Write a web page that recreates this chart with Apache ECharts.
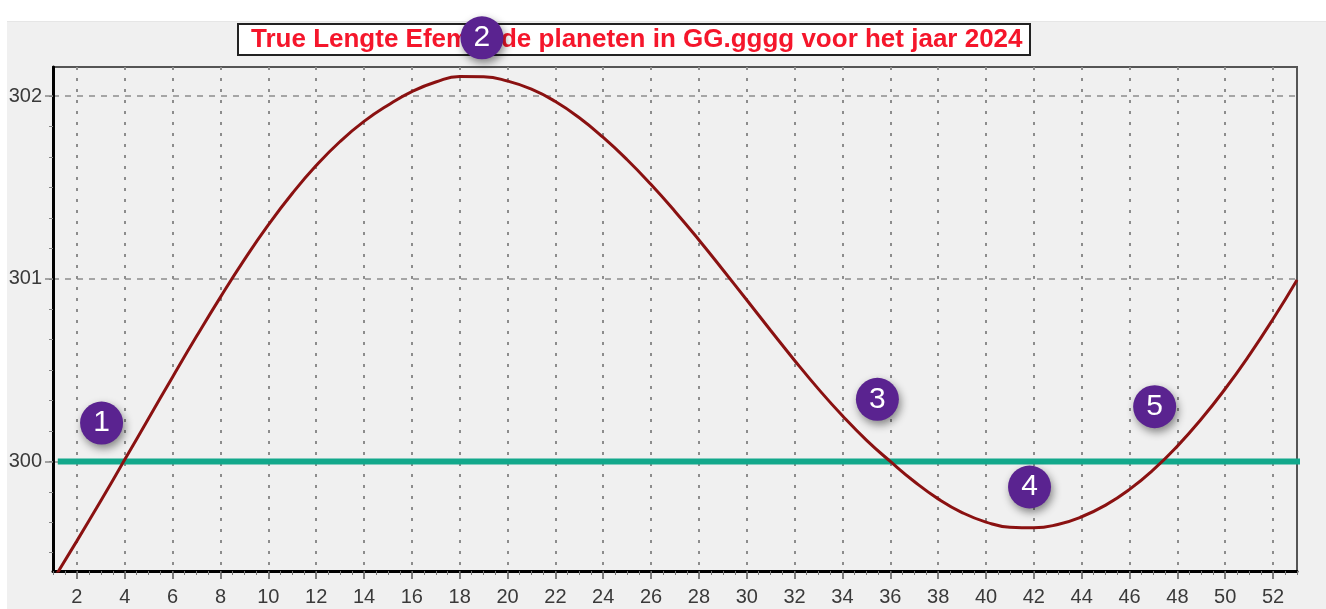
<!DOCTYPE html>
<html>
<head>
<meta charset="utf-8">
<title>True Lengte 2024</title>
<script src="https://cdn.jsdelivr.net/npm/echarts@6/dist/echarts.min.js"></script>
<style>
  html, body { margin: 0; padding: 0; background: #fff; }
  /* grijs venster onder de witte rand */
  #frame { position: absolute; left: 7px; top: 21px; right: 0; bottom: 0; background: #f0f0f0; border-top: 1px solid #e6e6e6; }
  #chart { position: absolute; left: 0; top: 0; width: 1326px; height: 609px; }
</style>
</head>
<body>
<div id="frame"></div>
<div id="chart"></div>
<script>
// weeknummers
const weeks = [1, 2, 3, 4, 5, 6, 7, 8, 9, 10, 11, 12, 13, 14, 15, 16, 17, 18, 19, 20,
  21, 22, 23, 24, 25, 26, 27, 28, 29, 30, 31, 32, 33, 34, 35, 36, 37, 38, 39, 40,
  41, 42, 43, 44, 45, 46, 47, 48, 49, 50, 51, 52, 53];
const lengte = [299.35, 299.565, 299.785, 300.01, 300.237, 300.463, 300.685, 300.90, 301.105, 301.295,
  301.467, 301.62, 301.752, 301.862, 301.951, 302.025, 302.078, 302.108, 302.106, 302.083,
  302.039, 301.971, 301.882, 301.774, 301.652, 301.516, 301.369, 301.213, 301.05, 300.884,
  300.717, 300.553, 300.396, 300.25, 300.117, 300.00, 299.89, 299.795, 299.72, 299.668,
  299.64, 299.637, 299.655, 299.697, 299.761, 299.847, 299.955, 300.084, 300.232, 300.398,
  300.581, 300.78, 300.994];
// referentielijn op 300 graden
const refValue = 300;
const refSpan = [1.2, 53.3];
// aslabels
const xLabels = [2, 4, 6, 8, 10, 12, 14, 16, 18, 20, 22, 24, 26, 28, 30, 32, 34, 36, 38, 40,
  42, 44, 46, 48, 50, 52];
const yLabels = [300, 301, 302];
// genummerde markeringen
const markerNames = ['1', '2', '3', '4', '5'];
const markerX = [3.03, 18.93, 35.46, 41.82, 47.05];
const markerY = [300.21, 302.32, 300.34, 299.86, 300.30];

const font = '"Liberation Sans", Arial, sans-serif';

// kleine streepjes op de y-as (per 1/6 graad)
const yMinor = [];
for (let k = 0; k <= 24; k++) {
  const v = 299 + k / 6;
  if (v > 299.4 && v < 302.16) yMinor.push(+v.toFixed(4));
}

const chart = echarts.init(document.getElementById('chart'));

chart.setOption({
  animation: false,
  title: {
    text: 'True Lengte Efemeride planeten in GG.gggg voor het jaar 2024',
    left: 238,
    top: 24,
    padding: [3, 8, 2, 13],
    backgroundColor: '#fff',
    borderColor: '#222',
    borderWidth: 2,
    textStyle: { color: '#f5162b', fontSize: 26, fontWeight: 'bold', fontFamily: font },
  },
  grid: {
    left: 53, top: 67, right: 29, bottom: 38,
    show: true, backgroundColor: '#f0f0f0', borderColor: '#555', borderWidth: 2,
  },
  xAxis: [
    {
      type: 'value', min: 1, max: 53, position: 'bottom',
      axisLine: { lineStyle: { color: '#000', width: 3 } },
      axisTick: { customValues: xLabels, length: 8, lineStyle: { color: '#555', width: 1.5 } },
      axisLabel: { customValues: xLabels, fontSize: 20, color: '#3a3a3a', margin: 16, fontFamily: font },
      splitLine: { show: true, lineStyle: { color: '#8c8c8c', width: 2, type: [3, 8] } },
    },
    {
      type: 'value', min: 1, max: 53, interval: 0.5, position: 'bottom',
      axisLine: { show: false },
      axisTick: { length: 4, lineStyle: { color: '#777' } },
      axisLabel: { show: false },
      splitLine: { show: false },
    },
  ],
  yAxis: [
    {
      type: 'value', min: 299.4, max: 302.16, position: 'left',
      axisLine: { show: true, lineStyle: { color: '#000', width: 3 } },
      axisTick: { show: true, customValues: yLabels, length: 8, lineStyle: { color: '#888', width: 1.5 } },
      axisLabel: { customValues: yLabels, fontSize: 20, color: '#3a3a3a', margin: 11, fontFamily: font },
      splitLine: { show: true, lineStyle: { color: '#8c8c8c', width: 1.5, type: [6, 6] } },
    },
    {
      type: 'value', min: 299.4, max: 302.16, position: 'left',
      axisLine: { show: false },
      axisTick: { show: true, customValues: yMinor, length: 4, lineStyle: { color: '#888' } },
      axisLabel: { show: false },
      splitLine: { show: false },
    },
  ],
  series: [
    {
      type: 'line',
      data: refSpan.map(x => [x, refValue]),
      clip: false,
      symbol: 'none',
      lineStyle: { color: '#12a88b', width: 6 },
      z: 3,
    },
    {
      type: 'line',
      data: weeks.map((w, i) => [w, lengte[i]]),
      smooth: true,
      symbol: 'none',
      lineStyle: { color: '#8a1111', width: 3 },
      z: 4,
    },
    {
      type: 'scatter',
      data: markerX.map((x, i) => ({ name: markerNames[i], value: [x, markerY[i]] })),
      clip: false,
      symbolSize: 43,
      itemStyle: {
        color: '#5a2390',
        opacity: 1,
        shadowBlur: 8,
        shadowColor: 'rgba(0, 0, 0, 0.45)',
        shadowOffsetX: 2,
        shadowOffsetY: 4,
      },
      label: {
        show: true, position: 'inside', formatter: '{b}',
        color: '#fff', fontSize: 30, fontFamily: font,
      },
      z: 10,
    },
  ],
});
</script>
</body>
</html>
